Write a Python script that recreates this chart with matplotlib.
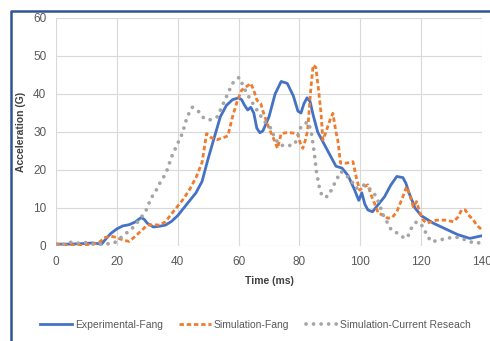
import matplotlib
matplotlib.use("Agg")
import matplotlib.pyplot as plt
from matplotlib.lines import Line2D

# ---- data ----
exp_t = [0, 4, 8, 12, 15, 16, 18, 20, 22, 24,
         26, 28, 29, 30, 32, 34, 36, 38, 40, 42,
         44, 46, 48, 50, 52, 54, 56, 58, 60, 61,
         62, 63, 64, 65, 66, 67, 68, 70, 72, 74,
         76, 78, 79.5, 80.5, 81.5, 82.5, 83.5, 84.5, 86, 88,
         90, 92, 94, 96, 98, 99.5, 100.5, 101.5, 102.5, 104,
         106, 108, 110, 112, 114, 115, 116, 118, 120, 124,
         128, 132, 136, 140]
exp_g = [0.5, 0.5, 0.6, 0.8, 0.5, 1.5, 3.3, 4.5, 5.3, 5.6,
         6.3, 7.5, 7, 6, 5, 5.2, 5.5, 6.5, 8, 10,
         12, 14, 17, 23, 28.5, 34, 37, 38.5, 39, 38.5,
         37, 35.8, 36.5, 35, 31, 29.8, 30.3, 34, 40, 43.3,
         42.8, 39.5, 35.5, 35, 37.5, 39, 38, 34.5, 30, 27,
         24, 21, 20.5, 18.5, 15, 12, 14, 11, 9.5, 9,
         11, 13, 16, 18.3, 18, 16.5, 14, 10, 8, 6,
         4.5, 3, 2, 2.7]

simf_t = [0, 4, 8, 12, 14, 16, 18, 20, 22, 24,
          26, 28, 30, 32, 34, 36, 38, 40, 42, 44,
          46, 48, 49.5, 51, 53, 55, 56.5, 58, 59.5, 61,
          62.5, 64, 65, 66, 67.3, 68, 69, 70, 71.7, 72.8,
          74, 75.5, 77, 79.4, 80.3, 81.1, 82, 82.7, 83.8, 84.5,
          85.4, 86.3, 87.1, 87.7, 88.5, 89.3, 90.2, 91, 92, 92.6,
          93.5, 95.4, 97.6, 98.7, 99.8, 101, 102.5, 103.5, 104.7, 106,
          107.5, 109, 110.5, 112, 113, 114, 115.2, 116.3, 117.4, 118.5,
          119.5, 120.7, 121.8, 125.1, 128, 130.6, 132, 133.3, 134.5, 135.5,
          137, 138.3, 140]
simf_g = [0.5, 0.3, 0.2, 0.5, 0.8, 2.2, 2.6, 2.2, 1.6, 1.2,
          2.5, 4, 5.5, 5.6, 5.5, 6.4, 8.5, 10.5, 12.5, 15,
          18, 22, 29.6, 28.5, 28, 28.5, 29, 34, 38, 41,
          41.9, 42.8, 41, 38.4, 37.5, 35.5, 33.2, 31, 27.9, 25.7,
          29.6, 29.8, 29.8, 29.6, 27, 25.7, 28, 30.5, 41.9, 47.6,
          47, 41, 34.9, 27.9, 29.5, 31.4, 33.5, 34.9, 30, 27.9,
          21.8, 21.8, 22.2, 18, 14.7, 15.5, 16.1, 13.5, 11.2, 8.5,
          8.2, 7.3, 7.5, 9, 11, 13, 15.6, 13.4, 10.3, 11.7,
          9, 6.8, 6, 6.8, 6.8, 6.4, 7.5, 9.5, 9.5, 8.2,
          7, 5.5, 4.2]

simc_t = [0, 3, 5, 7, 9, 12, 16, 19, 21, 23,
          25.5, 28, 30, 31, 32.7, 34.1, 35.4, 36.5, 38, 40,
          41.5, 43.1, 44.8, 47, 48.6, 50.8, 53, 55.5, 58, 60.2,
          62.4, 64, 65.7, 67.3, 69, 70.6, 71.7, 73.4, 76, 78.5,
          80.5, 82.7, 83.8, 84.9, 85.5, 86.6, 87.5, 89.2, 90.5, 92.1,
          93.7, 96.5, 98.7, 101.4, 103.6, 105.3, 107.5, 110.2, 112.4, 114.6,
          115.5, 116.8, 118.5, 120.7, 121.8, 123.4, 126.2, 128.4, 131.1, 133.3,
          136.1, 138.3, 140]
simc_g = [0.3, 0.5, 1, 0.7, 1, 0.5, 0.5, 0.7, 2, 3.3,
          5, 7.5, 9.9, 12.3, 14.3, 16.5, 18.2, 20, 23.5, 27,
          29.6, 34, 36.5, 35.3, 33.6, 33.2, 34, 38.4, 42.8, 44.4,
          40.6, 38.4, 36.2, 34.2, 32.3, 31, 28.8, 26.6, 26.3, 26.8,
          31.4, 32.7, 30.5, 24.4, 20, 15.2, 13, 13, 14.7, 17.4,
          19.6, 17.8, 15.2, 16.1, 14.7, 13, 8.2, 4.2, 3.3, 2,
          2.3, 4.7, 6.4, 5.1, 2.9, 1.1, 1.6, 2, 2.4, 2,
          1.1, 0.7, 1.1]

x_ticks = [0, 20, 40, 60, 80, 100, 120, 140]
y_ticks = [0, 10, 20, 30, 40, 50, 60]

# ---- style ----
plt.rcParams['font.family'] = ['Liberation Sans', 'DejaVu Sans']
BLUE = '#4472C4'
ORANGE = '#ED7D31'
GRAY = '#A5A5A5'
TXT = '#595959'

fig = plt.figure(figsize=(4.9, 3.41), dpi=100)
ax = fig.add_axes([56 / 490, 1 - 246 / 341, 426 / 490, 228 / 341])

ax.plot(exp_t, exp_g, color=BLUE, lw=2, label='Experimental-Fang')
ax.plot(simf_t, simf_g, color=ORANGE, lw=2, dashes=(1.6, 1.0), label='Simulation-Fang')
ax.plot(simc_t, simc_g, color=GRAY, lw=2.7, dashes=(0.01, 2.0), dash_capstyle='round',
        label='Simulation-Current Reseach')

ax.set_xlim(0, 140)
ax.set_ylim(0, 60)
ax.set_xticks(x_ticks)
ax.set_yticks(y_ticks)
ax.grid(True, color='#D9D9D9', lw=0.8)
ax.set_axisbelow(True)
for s in ax.spines.values():
    s.set_visible(False)
ax.tick_params(length=0, labelsize=8.5, colors=TXT, pad=7)

ax.set_xlabel('Time (ms)', fontsize=7.5, fontweight='bold', color='#404040', labelpad=6)
ax.set_ylabel('Acceleration (G)', fontsize=7.5, fontweight='bold', color='#404040', labelpad=5)

leg = fig.legend(loc='center', bbox_to_anchor=(0.522, 1 - 325 / 341), ncol=3, frameon=False,
                 fontsize=7.5, handlelength=3.0, columnspacing=1.6, handletextpad=0.3)
for t in leg.get_texts():
    t.set_color(TXT)

# dark blue frame of the original figure (cropped on right/bottom)
fig.add_artist(Line2D([11 / 490, 11 / 490, 1.0], [0.0, 1 - 11 / 341, 1 - 11 / 341],
                      transform=fig.transFigure, color='#2F5597', lw=1.8))

fig.savefig('out.png', dpi=100)
